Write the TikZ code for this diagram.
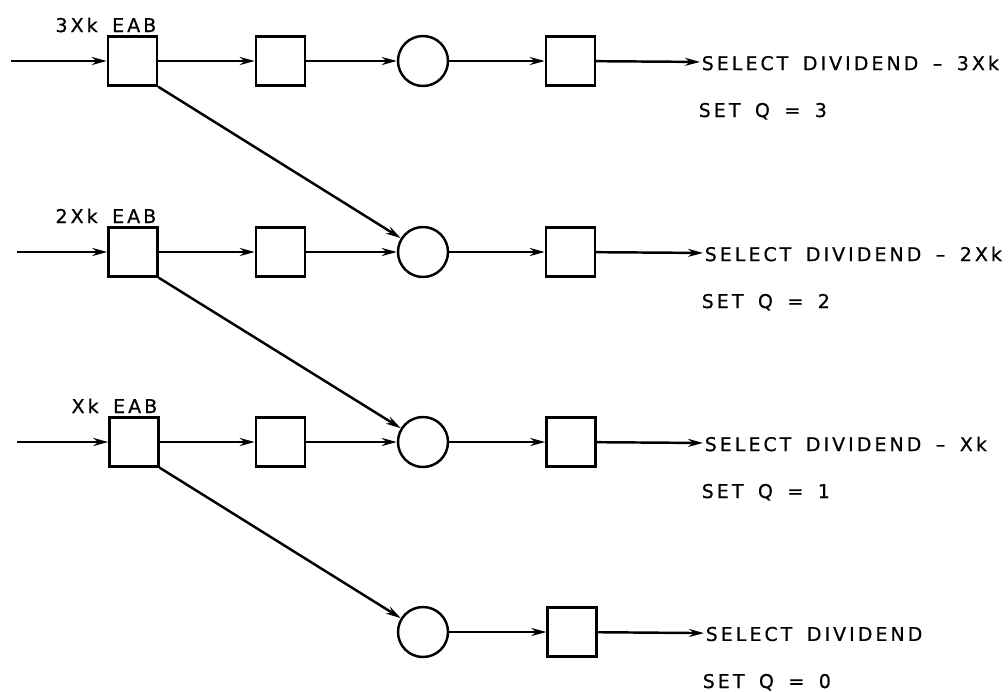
\documentclass[tikz,border=0pt]{standalone}
\usepackage{fontspec}
\setmainfont{DejaVu Sans}[LetterSpace=16, WordSpace=1.6, FakeBold=0.6]
\usetikzlibrary{arrows.meta}
\begin{document}
\begin{tikzpicture}[x=0.02cm, y=-0.02cm, >={Stealth[length=3mm, width=1.6mm]}, line width=1.4pt,
  blk/.style={draw, minimum size=0.98cm, inner sep=0pt},
  sum/.style={draw, circle, minimum size=1.0cm, inner sep=0pt},
  lbl/.style={inner sep=1pt, outer sep=0pt, font=\fontsize{10.8}{12}\selectfont}]
\useasboundingbox (0,0) rectangle (1008,691);
\coordinate (i1) at (11,61);
\coordinate (i2) at (17,252);
\coordinate (i3) at (17,442);
\node[blk] (a1) at (132.5,61) {};
\node[blk] (a2) at (133,252) {};
\node[blk] (a3) at (134,442) {};
\node[blk] (b1) at (280.5,61) {};
\node[blk] (b2) at (280.5,252) {};
\node[blk] (b3) at (280.5,442) {};
\node[sum] (c1) at (423,61) {};
\node[sum] (c2) at (423,252) {};
\node[sum] (c3) at (423,442) {};
\node[sum] (c4) at (423,632) {};
\node[blk] (d1) at (570.5,61) {};
\node[blk] (d2) at (570.5,252) {};
\node[blk] (d3) at (571,442) {};
\node[blk] (d4) at (572,632) {};
\node[lbl, anchor=base east] (l1) at (158,32) {3Xk EAB};
\node[lbl, anchor=base east] (l2) at (158,223) {2Xk EAB};
\node[lbl, anchor=base east] (l3) at (159,413) {Xk EAB};
\node[lbl, anchor=west] (o1) at (700,63) {SELECT DIVIDEND -- 3Xk};
\node[lbl, anchor=west] (o2) at (703,254) {SELECT DIVIDEND -- 2Xk};
\node[lbl, anchor=west] (o3) at (703,444) {SELECT DIVIDEND -- Xk};
\node[lbl, anchor=west] (o4) at (704,634) {SELECT DIVIDEND};
\node[lbl, anchor=base west] (q1) at (697,117) {SET Q = 3};
\node[lbl, anchor=base west] (q2) at (700,308) {SET Q = 2};
\node[lbl, anchor=base west] (q3) at (700,498) {SET Q = 1};
\node[lbl, anchor=base west] (q4) at (701,688) {SET Q = 0};
\draw[->] (i1) -- (a1);
\draw[->] (i2) -- (a2);
\draw[->] (i3) -- (a3);
\draw[->] (a1) -- (b1);
\draw[->] (a2) -- (b2);
\draw[->] (a3) -- (b3);
\draw[->] (b1) -- (c1);
\draw[->] (b2) -- (c2);
\draw[->] (b3) -- (c3);
\draw[->] (c1) -- (d1);
\draw[->] (c2) -- (d2);
\draw[->] (c3) -- (d3);
\draw[->] (c4) -- (d4);
\draw[->] (d1) -- (o1);
\draw[->] (d2) -- (o2);
\draw[->] (d3) -- (o3);
\draw[->] (d4) -- (o4);
\draw[->] (a1.south east) -- (c2);
\draw[->] (a2.south east) -- (c3);
\draw[->] (a3.south east) -- (c4);
\end{tikzpicture}
\end{document}
